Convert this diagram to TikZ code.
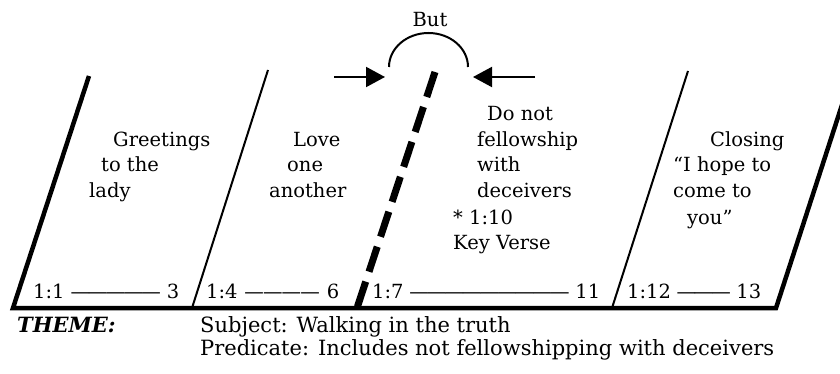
\documentclass[tikz,border=0pt]{standalone}
\usepackage{fontspec}
\setmainfont{DejaVu Serif}
\usetikzlibrary{arrows.meta}
\tikzset{
  txt/.style={inner sep=0pt, anchor=base west, font=\fontsize{19.5}{23}\selectfont},
  bigtxt/.style={txt, font=\fontsize{21}{25}\selectfont},
  thick line/.style={line width=4.5pt, line join=miter, line cap=butt},
  thin line/.style={line width=2pt},
  dashline/.style={line width=7pt, dash pattern=on 26.3pt off 10.5pt},
  pointer/.style={line width=2pt, -{Triangle[length=19pt,width=20pt]}},
}
\newcommand{\reflabel}[3]{\hbox to #1{#2\ \xleaders\hbox{\kern-1.6pt—\kern-1.6pt}\hfill\ #3}}
\begin{document}
\begin{tikzpicture}[x=1pt,y=-1pt]
\useasboundingbox (0,0) rectangle (840,374);
\clip (0,0) rectangle (840,374);
% frame coordinates
\coordinate (LT) at (89,76);
\coordinate (LB) at (13,308);
\coordinate (RB) at (776,308);
\coordinate (RT) at (853,71);
\coordinate (T1b) at (192,308);
\coordinate (T1t) at (268,70);
\coordinate (T2b) at (612,308);
\coordinate (T2t) at (688,71);
\coordinate (Dt) at (435,72);
\coordinate (Db) at (357,308);
\coordinate (A1s) at (334,77);
\coordinate (A1e) at (385,77);
\coordinate (A2s) at (535,77);
\coordinate (A2e) at (473,77);
\coordinate (ArcL) at (389,67);

\draw[thick line] (LT) -- (LB) -- (RB) -- (RT);
\draw[thin line] (T1b) -- (T1t);
\draw[thin line] (T2b) -- (T2t);
\draw[dashline] (Dt) -- (Db);
\draw[pointer] (A1s) -- (A1e);
\draw[pointer] (A2s) -- (A2e);
\draw[thin line] (ArcL) arc[start angle=180, end angle=360, x radius=39.5, y radius=34];

\node[txt, anchor=base] (but) at (430,27) {But};

\node[txt] (g1) at (113,147) {Greetings};
\node[txt] (g2) at (101,172) {to the};
\node[txt] (g3) at (89,197) {lady};

\node[txt] (l1) at (293,147) {Love};
\node[txt] (l2) at (287,172) {one};
\node[txt] (l3) at (269,197) {another};

\node[txt] (d1) at (487,121) {Do not};
\node[txt] (d2) at (477,147) {fellowship};
\node[txt] (d3) at (477,172) {with};
\node[txt] (d4) at (477,197) {deceivers};
\node[txt] (d5) at (453,224) {* 1:10};
\node[txt] (d6) at (453,249) {Key Verse};

\node[txt] (c1) at (710,147) {Closing};
\node[txt] (c2) at (673,172) {“I hope to};
\node[txt] (c3) at (673,197) {come to};
\node[txt] (c4) at (687,224) {you”};

\node[txt] (r1) at (33,298) {\reflabel{146pt}{1:1}{3}};
\node[txt] (r2) at (206,298) {\reflabel{133pt}{1:4}{6}};
\node[txt] (r3) at (372,298) {\reflabel{228pt}{1:7}{11}};
\node[txt] (r4) at (627,298) {\reflabel{134pt}{1:12}{13}};

\node[bigtxt] (theme) at (17,332) {\bfseries\itshape THEME:};
\node[bigtxt] (subj) at (200,332) {Subject: Walking in the truth};
\node[bigtxt] (pred) at (200,355) {Predicate: Includes not fellowshipping with deceivers};
\end{tikzpicture}
\end{document}
